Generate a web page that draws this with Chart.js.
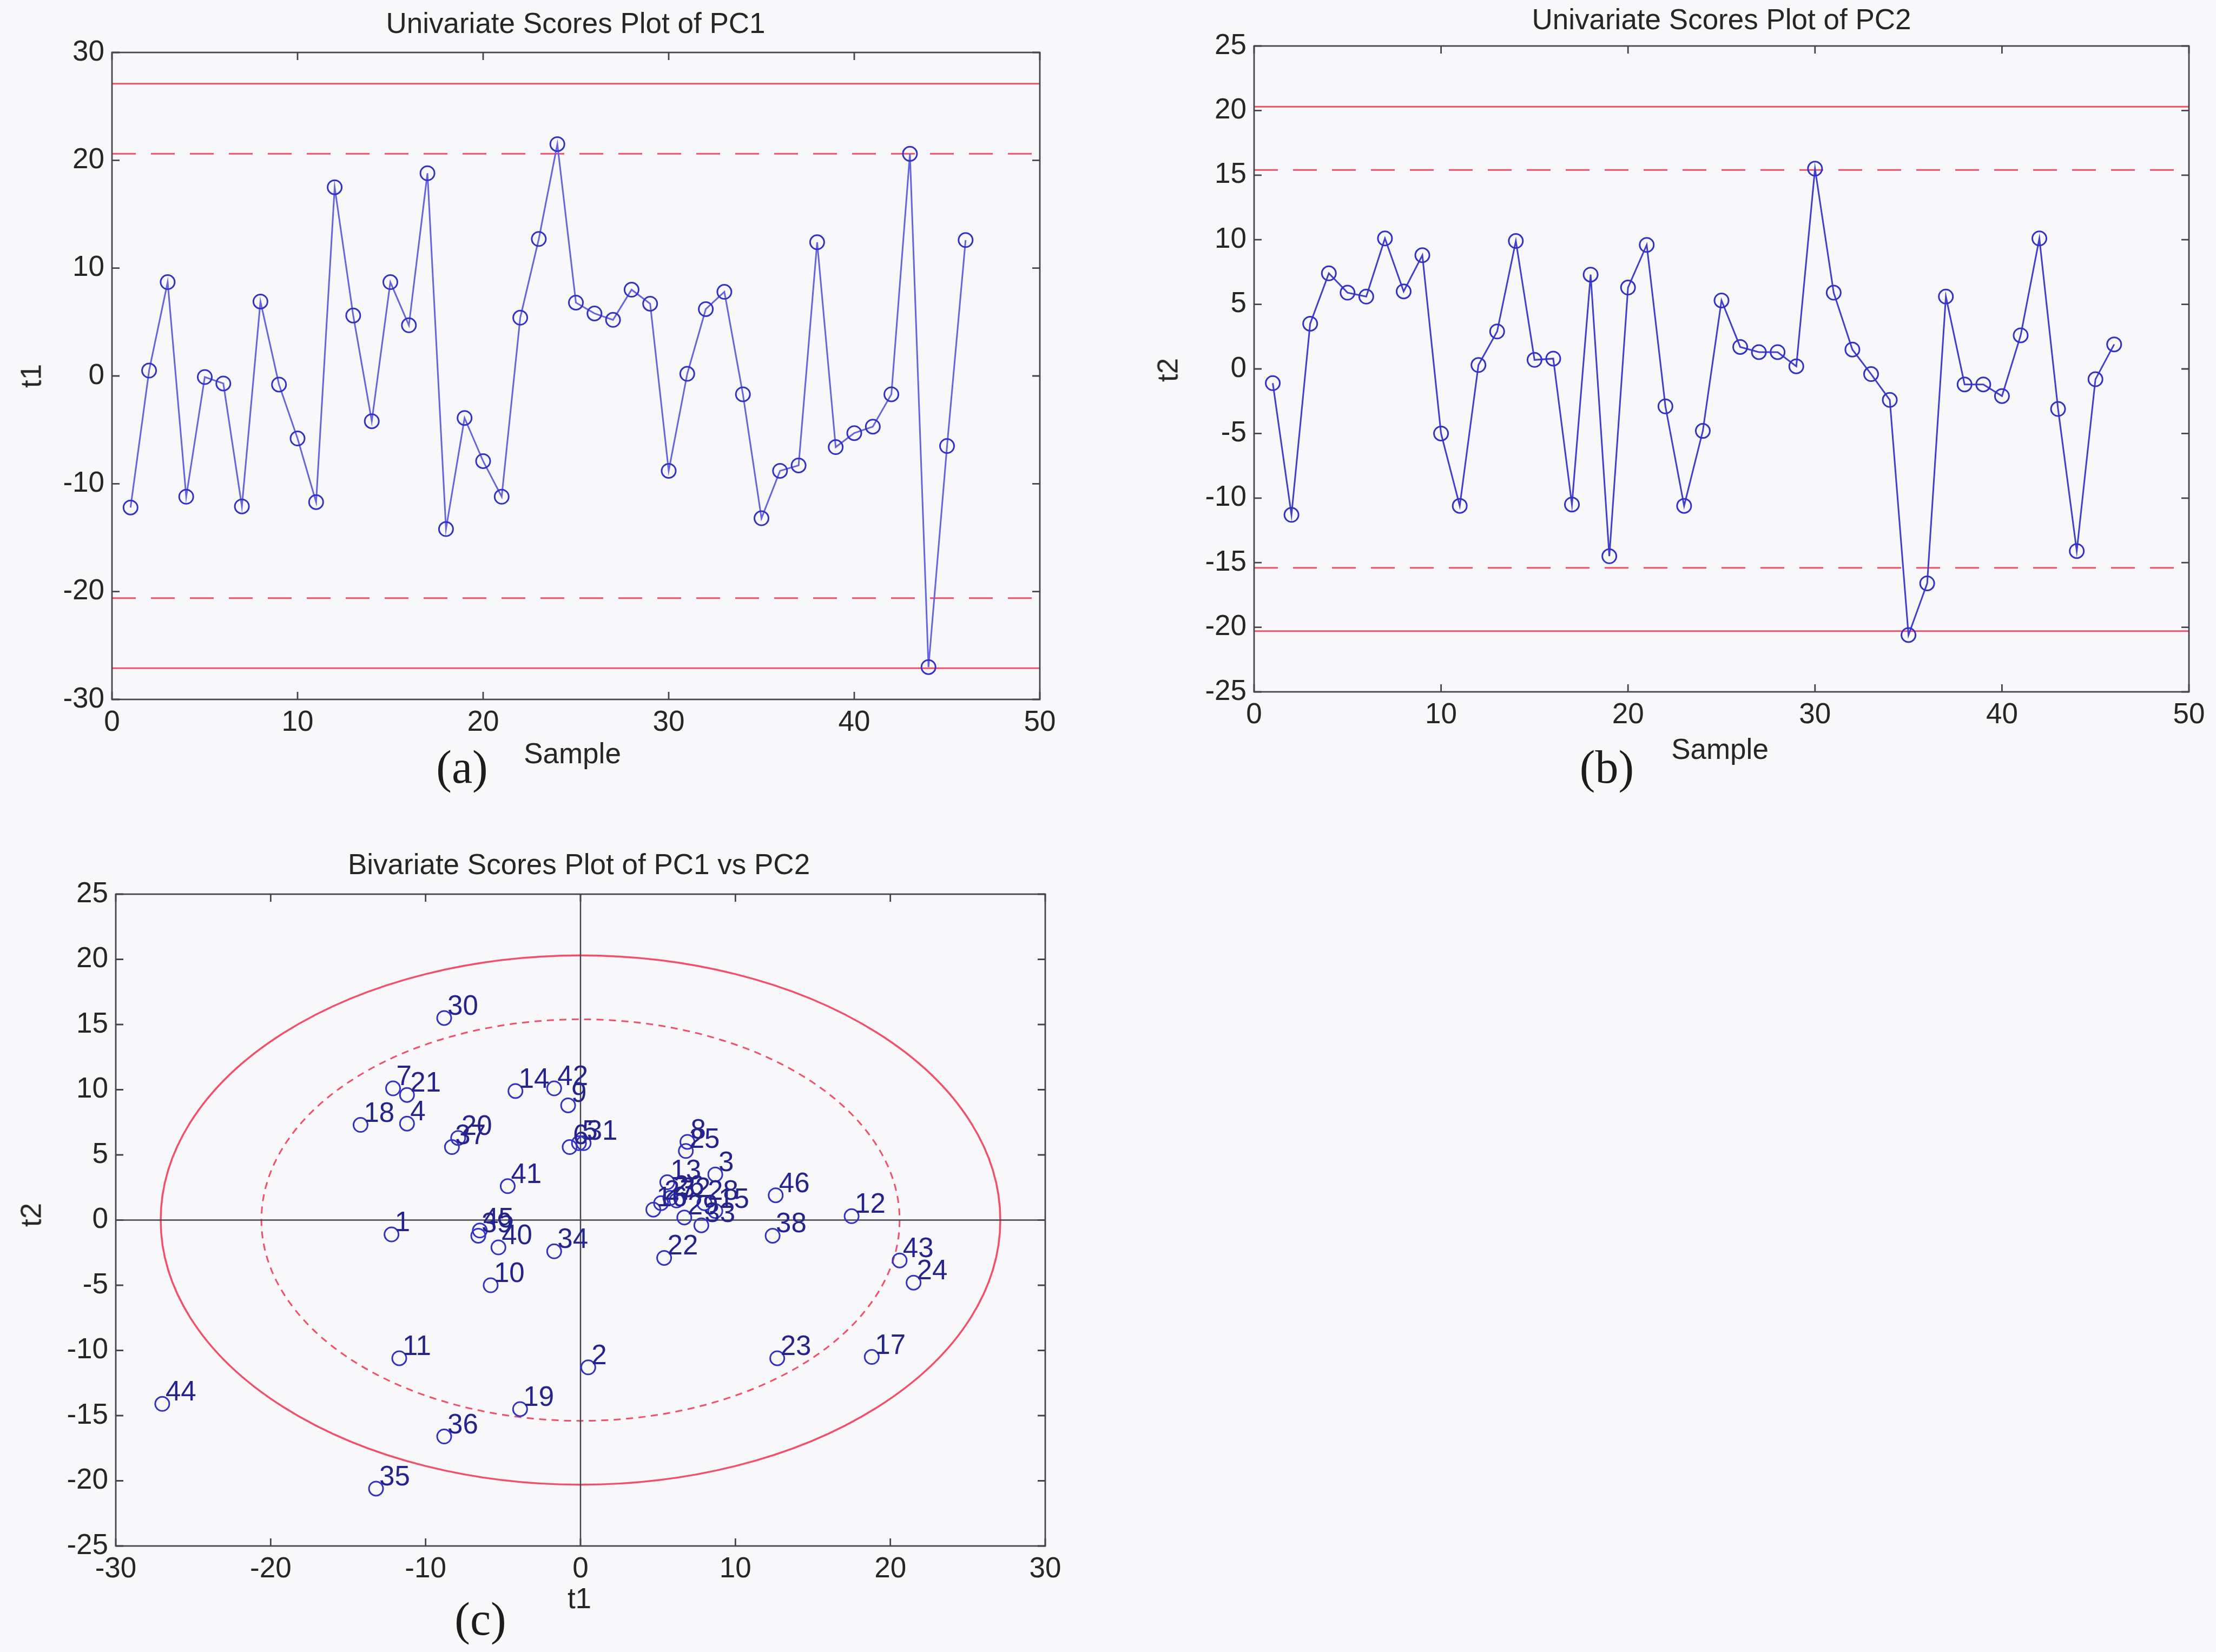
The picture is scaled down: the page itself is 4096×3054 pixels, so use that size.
<!DOCTYPE html>
<html>
<head>
<meta charset="utf-8">
<script src="https://cdn.jsdelivr.net/npm/chart.js@4.4.1/dist/chart.umd.min.js"></script>
<style>
  html, body { margin: 0; padding: 0; background: #f8f8fa; }
  body { width: 4096px; height: 3054px; position: relative; overflow: hidden;
         font-family: "Liberation Sans", Arial, sans-serif; color: #262626; }
  canvas { position: absolute; }
  .lbl { position: absolute; white-space: nowrap; transform: translate(-50%, -50%); font-size: 53px; color: #262626; }
  .rot { transform: translate(-50%, -50%) rotate(-90deg); }
  .tag { font-family: "Liberation Serif", "Times New Roman", serif; font-size: 86px; color: #1c1c1c; }
</style>
</head>
<body>
<canvas id="chartA"></canvas>
<canvas id="chartB"></canvas>
<canvas id="chartC"></canvas>

<div class="lbl" style="left:1064px; top:42px;">Univariate Scores Plot of PC1</div>
<div class="lbl" style="left:1058px; top:1392px;">Sample</div>
<div class="lbl rot" style="left:57px; top:695px;">t1</div>
<div class="lbl tag" style="left:854px; top:1418px;">(a)</div>

<div class="lbl" style="left:3182px; top:35px;">Univariate Scores Plot of PC2</div>
<div class="lbl" style="left:3179px; top:1384px;">Sample</div>
<div class="lbl rot" style="left:2158px; top:684px;">t2</div>
<div class="lbl tag" style="left:2970px; top:1418px;">(b)</div>

<div class="lbl" style="left:1070px; top:1597px;">Bivariate Scores Plot of PC1 vs PC2</div>
<div class="lbl" style="left:1071px; top:2954px;">t1</div>
<div class="lbl rot" style="left:57px; top:2246px;">t2</div>
<div class="lbl tag" style="left:888px; top:2993px;">(c)</div>

<script>
// sample numbers and the two score vectors
const samples = [1, 2, 3, 4, 5, 6, 7, 8, 9, 10, 11, 12, 13, 14, 15, 16, 17, 18, 19, 20, 21, 22, 23,
    24, 25, 26, 27, 28, 29, 30, 31, 32, 33, 34, 35, 36, 37, 38, 39, 40, 41, 42, 43, 44, 45, 46];
const t1 = [-12.2, 0.5, 8.7, -11.2, -0.1, -0.7, -12.1, 6.9, -0.8, -5.8, -11.7, 17.5, 5.6, -4.2, 8.7,
    4.7, 18.8, -14.2, -3.9, -7.9, -11.2, 5.4, 12.7, 21.5, 6.8, 5.8, 5.2, 8.0, 6.7, -8.8, 0.2, 6.2,
    7.8, -1.7, -13.2, -8.8, -8.3, 12.4, -6.6, -5.3, -4.7, -1.7, 20.6, -27.0, -6.5, 12.6];
const t2 = [-1.1, -11.3, 3.5, 7.4, 5.9, 5.6, 10.1, 6.0, 8.8, -5.0, -10.6, 0.3, 2.9, 9.9, 0.7,
    0.8, -10.5, 7.3, -14.5, 6.3, 9.6, -2.9, -10.6, -4.8, 5.3, 1.7, 1.3, 1.3, 0.2, 15.5, 5.9, 1.5,
    -0.4, -2.4, -20.6, -16.6, 5.6, -1.2, -1.2, -2.1, 2.6, 10.1, -3.1, -14.1, -0.8, 1.9];

// control limits: [95%, 99%]
const limT1 = [20.6, 27.1];
const limT2 = [15.4, 20.3];

const xTicksA = [0, 10, 20, 30, 40, 50];
const yTicksA = [-30, -20, -10, 0, 10, 20, 30];
const yTicksB = [-25, -20, -15, -10, -5, 0, 5, 10, 15, 20, 25];
const xTicksC = [-30, -20, -10, 0, 10, 20, 30];
const yTicksC = [-25, -20, -15, -10, -5, 0, 5, 10, 15, 20, 25];

const RED = '#f2506a';
const AXIS = '#45454f';
const TICK_FONT = { family: 'Liberation Sans', size: 53 };

// axes box with inward ticks, like the original plots
const boxPlugin = {
    id: 'matlabBox',
    afterDraw(chart) {
        const { ctx, chartArea: a, scales: { x, y } } = chart;
        const len = 14;
        ctx.save();
        ctx.strokeStyle = AXIS;
        ctx.lineWidth = 2.8;
        ctx.strokeRect(a.left, a.top, a.right - a.left, a.bottom - a.top);
        ctx.beginPath();
        x.ticks.forEach(t => {
            const px = x.getPixelForValue(t.value);
            ctx.moveTo(px, a.bottom); ctx.lineTo(px, a.bottom - len);
            ctx.moveTo(px, a.top); ctx.lineTo(px, a.top + len);
        });
        y.ticks.forEach(t => {
            const py = y.getPixelForValue(t.value);
            ctx.moveTo(a.left, py); ctx.lineTo(a.left + len, py);
            ctx.moveTo(a.right, py); ctx.lineTo(a.right - len, py);
        });
        ctx.stroke();
        ctx.restore();
    }
};

// confidence ellipses for the bivariate plot
const ellipsePlugin = {
    id: 'limitEllipse',
    beforeDatasetsDraw(chart) {
        const { ctx, scales: { x, y } } = chart;
        const cx = x.getPixelForValue(0);
        const cy = y.getPixelForValue(0);
        const ellipses = [
            { rx: limT1[1], ry: limT2[1], dash: [], w: 3.5 },
            { rx: limT1[0], ry: limT2[0], dash: [13, 10], w: 3 }
        ];
        ctx.save();
        ctx.strokeStyle = RED;
        ellipses.forEach(e => {
            const rx = x.getPixelForValue(e.rx) - cx;
            const ry = cy - y.getPixelForValue(e.ry);
            ctx.lineWidth = e.w;
            ctx.setLineDash(e.dash);
            ctx.beginPath();
            ctx.ellipse(cx, cy, rx, ry, 0, 0, Math.PI * 2);
            ctx.stroke();
        });
        ctx.restore();
    }
};

// sample number next to each point
const labelPlugin = {
    id: 'pointLabels',
    afterDatasetsDraw(chart) {
        const { ctx } = chart;
        const meta = chart.getDatasetMeta(0);
        ctx.save();
        ctx.fillStyle = '#24248c';
        ctx.font = '51px "Liberation Sans"';
        ctx.textAlign = 'left';
        ctx.textBaseline = 'alphabetic';
        meta.data.forEach((pt, i) => {
            ctx.fillText(String(samples[i]), pt.x + 6, pt.y - 6);
        });
        ctx.restore();
    }
};

function hLine(y, x0, x1, dash) {
    return {
        data: [{ x: x0, y: y }, { x: x1, y: y }],
        showLine: true, pointRadius: 0, borderColor: RED, borderWidth: 3, borderDash: dash
    };
}

function axisOpts(min, max, step, values, pad) {
    return {
        type: 'linear', min: min, max: max,
        grid: { display: false, drawTicks: false },
        border: { display: false },
        afterBuildTicks: s => { s.ticks = values.map(v => ({ value: v })); },
        ticks: { stepSize: step, autoSkip: false, maxRotation: 0, padding: pad, color: '#262626', font: TICK_FONT }
    };
}

function makeChart(id, box, datasets, xAxis, yAxis, plugins) {
    const canvas = document.getElementById(id);
    const padL = 200, padT = 60, padR = 60, padB = 110;
    const w = box.r - box.l, h = box.b - box.t;
    canvas.width = w + padL + padR;
    canvas.height = h + padT + padB;
    canvas.style.left = (box.l - padL) + 'px';
    canvas.style.top = (box.t - padT) + 'px';
    xAxis.afterFit = s => { s.height = padB; };
    yAxis.afterFit = s => { s.width = padL; };
    return new Chart(canvas, {
        type: 'scatter',
        data: { datasets: datasets },
        options: {
            responsive: false,
            animation: false,
            events: [],
            layout: { padding: { left: 0, top: padT, right: padR, bottom: 0 } },
            plugins: { legend: { display: false }, tooltip: { enabled: false } },
            scales: { x: xAxis, y: yAxis }
        },
        plugins: plugins
    });
}

const pointStyle = {
    pointRadius: 13, pointBorderWidth: 3, pointBorderColor: '#3232c6', pointBackgroundColor: 'rgba(0,0,0,0)'
};

// (a) PC1
makeChart('chartA', { l: 207, t: 97, r: 1922, b: 1293 }, [
    Object.assign({ data: samples.map((s, i) => ({ x: s, y: t1[i] })), showLine: true,
        borderColor: '#6666dc', borderWidth: 3 }, pointStyle),
    hLine(limT1[0], 0, 50, [44, 28]), hLine(-limT1[0], 0, 50, [44, 28]),
    hLine(limT1[1], 0, 50, []), hLine(-limT1[1], 0, 50, [])
], axisOpts(0, 50, 10, xTicksA, 12), axisOpts(-30, 30, 10, yTicksA, 14), [boxPlugin]);

// (b) PC2
makeChart('chartB', { l: 2318, t: 85, r: 4046, b: 1279 }, [
    Object.assign({ data: samples.map((s, i) => ({ x: s, y: t2[i] })), showLine: true,
        borderColor: '#4040cc', borderWidth: 3 }, pointStyle),
    hLine(limT2[0], 0, 50, [44, 28]), hLine(-limT2[0], 0, 50, [44, 28]),
    hLine(limT2[1], 0, 50, []), hLine(-limT2[1], 0, 50, [])
], axisOpts(0, 50, 10, xTicksA, 12), axisOpts(-25, 25, 5, yTicksB, 14), [boxPlugin]);

// (c) PC1 vs PC2
makeChart('chartC', { l: 214, t: 1653, r: 1932, b: 2858 }, [
    Object.assign({ data: samples.map((s, i) => ({ x: t1[i], y: t2[i] })), showLine: false }, pointStyle),
    { data: [{ x: -30, y: 0 }, { x: 30, y: 0 }], showLine: true, pointRadius: 0, borderColor: AXIS, borderWidth: 2.5 },
    { data: [{ x: 0, y: -25 }, { x: 0, y: 25 }], showLine: true, pointRadius: 0, borderColor: AXIS, borderWidth: 2.5 }
], axisOpts(-30, 30, 10, xTicksC, 12), axisOpts(-25, 25, 5, yTicksC, 14), [ellipsePlugin, labelPlugin, boxPlugin]);
</script>
</body>
</html>
